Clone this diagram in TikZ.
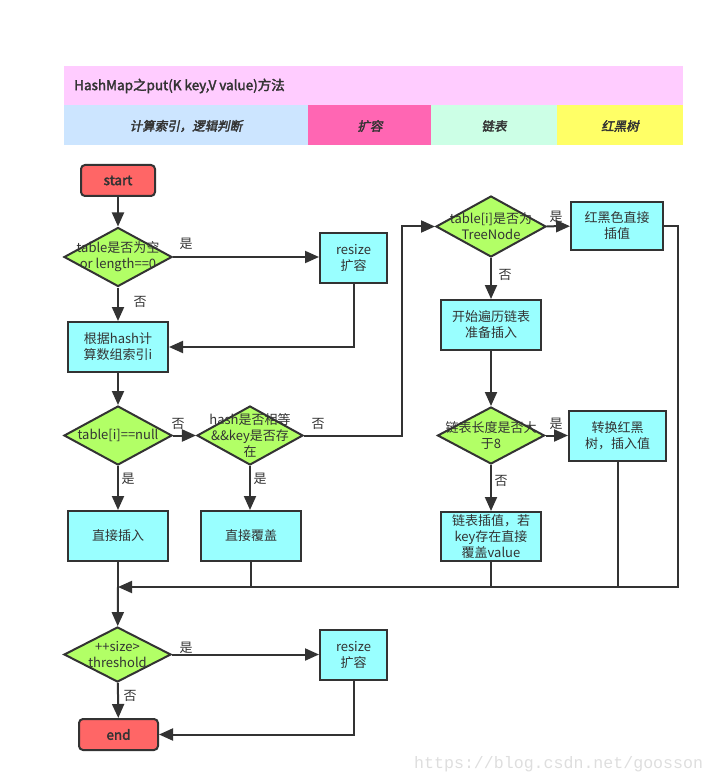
\documentclass[tikz,border=0pt]{standalone}
\usepackage{fontspec}
\setmainfont{Noto Sans CJK SC}
\newfontfamily\boldcjk[FakeBold=2.5]{Noto Sans CJK SC}
\newfontfamily\itcjk[FakeBold=2.5,FakeSlant=0.2]{Noto Sans CJK SC}
\newfontfamily\wmfont{Liberation Mono}
\usetikzlibrary{arrows.meta,shapes.geometric}
\definecolor{titlepink}{HTML}{FFCCFF}
\definecolor{cellblue}{HTML}{CCE5FF}
\definecolor{cellpink}{HTML}{FF66B3}
\definecolor{cellmint}{HTML}{CCFFE6}
\definecolor{cellyellow}{HTML}{FFFF66}
\definecolor{termred}{HTML}{FF6666}
\definecolor{boxcyan}{HTML}{99FFFF}
\definecolor{diagreen}{HTML}{B2FF66}
\definecolor{linecol}{HTML}{333333}
\begin{document}
\begin{tikzpicture}[x=1pt,y=-1pt,
  txt/.style={font=\fontsize{13}{16}\selectfont, text=linecol},
  box/.style={txt, draw=linecol, line width=2pt, fill=boxcyan, minimum width=100pt, minimum height=50pt, inner sep=0pt, align=center},
  term/.style={draw=linecol, line width=2pt, fill=termred, rounded corners=4pt, minimum width=74pt, minimum height=31pt, inner sep=0pt, font=\boldcjk\fontsize{13.5}{16}\selectfont, text=linecol},
  dia/.style={diamond, draw=linecol, line width=2pt, fill=diagreen, minimum width=108pt, minimum height=59pt, inner sep=0pt},
  dtext/.style={txt, align=center, inner sep=0pt},
  ln/.style={draw=linecol, line width=2pt},
  arr/.style={ln, -{Triangle[length=14pt,width=12pt]}},
  lab/.style={txt, inner sep=0pt},
  hdr/.style={font=\itcjk\fontsize{12.5}{15}\selectfont, text=linecol, inner sep=0pt}
]
\useasboundingbox (0,0) rectangle (716,783);
% header
\fill[titlepink] (64,66) rectangle (683,105);
\fill[cellblue] (64,105) rectangle (308,145);
\fill[cellpink] (308,105) rectangle (431,145);
\fill[cellmint] (431,105) rectangle (557,145);
\fill[cellyellow] (557,105) rectangle (683,145);
\node[anchor=west, inner sep=0pt, font=\boldcjk\fontsize{13.5}{16}\selectfont, text=linecol] (title) at (74,86) {HashMap之put(K key,V value)方法};
\node[hdr] (h1) at (186,126) {计算索引，逻辑判断};
\node[hdr] (h2) at (370,126) {扩容};
\node[hdr] (h3) at (494,126) {链表};
\node[hdr] (h4) at (620,126) {红黑树};
% nodes
\node[term] (start) at (118,180.5) {start};
\node[dia] (d1) at (118,257) {};
\node[dtext] (d1t) at (d1) {table是否为空\\or length==0};
\node[box, minimum width=67pt] (r1) at (353.5,258) {resize\\扩容};
\node[box] (idx) at (118,347) {根据hash计\\算数组索引i};
\node[dia] (d2) at (118,435.5) {};
\node[dtext] (d2t) at (d2) {table[i]==null};
\node[dia, minimum width=106pt] (d3) at (250,435.5) {};
\node[dtext] (d3t) at (d3) {hash是否相等\\\&\&key是否存\\在};
\node[dia, minimum width=110pt, minimum height=61pt] (d4) at (491,226.5) {};
\node[dtext] (d4t) at (d4) {table[i]是否为\\TreeNode};
\node[box, minimum width=92pt, minimum height=48pt] (rb) at (617,226) {红黑色直接\\插值};
\node[box] (trav) at (491,325) {开始遍历链表\\准备插入};
\node[dia, minimum width=107pt, minimum height=57pt] (d5) at (491,435.5) {};
\node[dtext] (d5t) at (d5) {链表长度是否大\\于8};
\node[box, minimum width=97pt] (conv) at (617.5,436) {转换红黑\\树，插入值};
\node[box, minimum height=49pt] (lins) at (491,536.5) {链表插值，若\\key存在直接\\覆盖value};
\node[box] (ins) at (118,536) {直接插入};
\node[box] (cov) at (251,536) {直接覆盖};
\node[dia, minimum width=107pt, minimum height=55pt] (d6) at (117.5,654.5) {};
\node[dtext] (d6t) at (d6) {++size>\\threshold};
\node[box, minimum width=67pt] (r2) at (353.5,655) {resize\\扩容};
\node[term, minimum width=79pt] (end) at (118.5,734.5) {end};
\coordinate (m) at (118,587);
\coordinate (cr) at (678,587);
\coordinate (c2) at (402,300);
% connectors
\draw[arr] (start) -- (d1);
\draw[arr] (d1.east) -- (d1.east -| r1.west);
\draw[arr] (d1) -- (idx);
\draw[arr] (r1.south) |- (idx.east);
\draw[arr] (idx) -- (d2);
\draw[arr] (d2) -- (d3);
\draw[arr] (d3.east) -- (d3.east -| c2) |- (d4.west);
\draw[arr] (d4) -- (rb);
\draw[arr] (d4) -- (trav);
\draw[arr] (trav) -- (d5);
\draw[arr] (d5.east) -- (d5.east -| conv.west);
\draw[arr] (d5) -- (lins);
\draw[arr] (d2) -- (ins);
\draw[arr] (d3) -- (d3 |- cov.north);
\draw[arr] (rb.east) -| (cr) -- (m);
\draw[ln] (cov.south) -- (cov.south |- m);
\draw[ln] (lins.south) -- (lins.south |- m);
\draw[ln] (conv.south) -- (conv.south |- m);
\draw[ln] (ins.south) -- (m);
\draw[arr] (m) -- (d6);
\draw[arr] (d6.east) -- (d6.east -| r2.west);
\draw[arr] (d6) -- (end);
\draw[arr] (r2.south) |- (end.east);
% labels
\node[lab] (l1) at (186,244) {是};
\node[lab] (l2) at (140,302) {否};
\node[lab] (l3) at (178,424) {否};
\node[lab] (l4) at (318,424) {否};
\node[lab] (l5) at (556,217) {是};
\node[lab] (l6) at (505,275) {否};
\node[lab] (l7) at (556,424) {是};
\node[lab] (l8) at (501,481) {否};
\node[lab] (l9) at (128,479) {是};
\node[lab] (l10) at (260,479) {是};
\node[lab] (l11) at (186,648) {是};
\node[lab] (l12) at (130,696) {否};
\node[anchor=west, inner sep=0pt, font=\wmfont\fontsize{16.6}{18}\selectfont, text=black!13] (wm) at (414,764) {https://blog.csdn.net/goosson};
\end{tikzpicture}
\end{document}
